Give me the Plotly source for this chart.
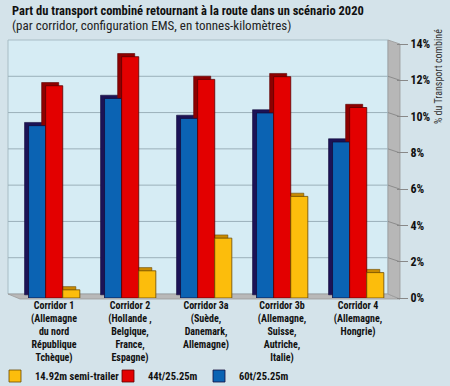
import plotly.graph_objects as go

categories = [
    "Corridor 1<br>(Allemagne<br>du nord<br>République<br>Tchèque)",
    "Corridor 2<br>(Hollande ,<br>Belgique,<br>France,<br>Espagne)",
    "Corridor 3a<br>(Suède,<br>Danemark,<br>Allemagne)",
    "Corridor 3b<br>(Allemagne,<br>Suisse,<br>Autriche,<br>Italie)",
    "Corridor 4<br>(Allemagne,<br>Hongrie)",
]
v60 = [9.5, 11.0, 9.9, 10.2, 8.6]
v44 = [11.7, 13.3, 12.05, 12.2, 10.5]
v1492 = [0.45, 1.5, 3.3, 5.6, 1.4]
tick_vals = [0, 2, 4, 6, 8, 10, 12, 14]
tick_text = ["0%", "2%", "4%", "6%", "8%", "10%", "12%", "14%"]

W, H = 450, 386
X0, X1, Y0, Y1 = 16, 396, 44, 298   # front plane in pixels
PW, PH = X1 - X0, Y1 - Y0

def fx(px):
    return px / W

def fy(py):
    return (H - py) / H

FONT = "Liberation Sans Narrow, Arial Narrow, Roboto Condensed, Liberation Sans, sans-serif"

series = [
    ("60t/25.25m", v60, "#0b63b3", "#1c1356", "#140c3c", -0.335, "legend3"),
    ("44t/25.25m", v44, "#e30000", "#8e0000", "#5a0000", -0.11, "legend2"),
    ("14.92m semi-trailer", v1492, "#fcbd0c", "#c98b00", "#6b4a00", 0.115, "legend"),
]
bw = 0.225
dx = 4.0 / (PW / 5)
dy = 3.2 / (PH / 14)

fig = go.Figure()
for name, vals, front, dark, edge, off, lg in series:
    fig.add_trace(go.Bar(
        x=categories, y=vals, base=dy, offset=off - dx, width=bw,
        marker=dict(color=dark, line=dict(color=edge, width=0.6)),
        showlegend=False, hoverinfo="skip"))
for name, vals, front, dark, edge, off, lg in series:
    fig.add_trace(go.Bar(
        x=categories, y=vals, offset=off, width=bw, name=name, legend=lg,
        marker=dict(color=front, line=dict(color=edge, width=0.8))))

shapes = []
shapes.append(dict(type="rect", xref="paper", yref="paper", layer="below",
                   x0=fx(8), x1=fx(388), y0=fy(294), y1=fy(40),
                   fillcolor="#d6ecf4", line=dict(color="#a8bcc5", width=1)))
shapes.append(dict(type="path", xref="paper", yref="paper", layer="below",
                   path="M %f %f L %f %f L %f %f L %f %f Z" % (
                       fx(8), fy(294), fx(388), fy(294),
                       fx(400), fy(299), fx(20), fy(299)),
                   fillcolor="#b9b9b9", line=dict(color="#9a9a9a", width=0.8)))
shapes.append(dict(type="path", xref="paper", yref="paper", layer="below",
                   path="M %f %f L %f %f L %f %f L %f %f Z" % (
                       fx(388), fy(40), fx(400), fy(44),
                       fx(400), fy(299), fx(388), fy(294)),
                   fillcolor="#b7b7b7", line=dict(color="#9a9a9a", width=0.8)))
for v in tick_vals[1:-1]:
    shapes.append(dict(type="line", xref="paper", yref="y", layer="below",
                       x0=fx(8), x1=fx(388), yanchor=v, ysizemode="pixel",
                       y0=4, y1=4, line=dict(color="#9bb0b9", width=1)))
    shapes.append(dict(type="line", xref="paper", yref="y", layer="below",
                       x0=fx(388), x1=fx(400), yanchor=v, ysizemode="pixel",
                       y0=4, y1=0, line=dict(color="#8c8c8c", width=1)))

annotations = [
    dict(text="<b>Part du transport combiné retournant à la route dans un scénario 2020</b>",
         xref="paper", yref="paper", x=fx(10), y=fy(11), xanchor="left", yanchor="middle",
         showarrow=False, font=dict(family=FONT, size=12.5, color="#111")),
    dict(text="(par corridor, configuration EMS, en tonnes-kilomètres)",
         xref="paper", yref="paper", x=fx(10), y=fy(25), xanchor="left", yanchor="middle",
         showarrow=False, font=dict(family=FONT, size=13, color="#222")),
    dict(text="% du Transport combiné", textangle=-90,
         xref="paper", yref="paper", x=fx(438), y=fy(77), xanchor="center", yanchor="middle",
         showarrow=False, font=dict(family=FONT, size=10, color="#333")),
]

legend_common = dict(orientation="h", bgcolor="rgba(0,0,0,0)", xanchor="left", yanchor="middle",
                     font=dict(family=FONT, size=10.5, color="#111", weight="bold"), itemwidth=30)

fig.update_layout(
    width=W, height=H,
    margin=dict(l=0, r=0, t=0, b=0, autoexpand=False),
    paper_bgcolor="#d4e3ea",
    plot_bgcolor="rgba(0,0,0,0)",
    barmode="overlay",
    showlegend=True,
    legend=dict(x=fx(-5), y=fy(376), **legend_common),
    legend2=dict(x=fx(108), y=fy(376), **legend_common),
    legend3=dict(x=fx(199), y=fy(376), **legend_common),
    xaxis=dict(domain=[fx(X0), fx(X1)], range=[-0.5, 4.5], showgrid=False, showline=False, ticks="",
               tickfont=dict(family=FONT, size=10, color="#111", weight="bold"), tickangle=0,
               zeroline=False, fixedrange=True),
    yaxis=dict(domain=[fy(Y1), fy(Y0)], range=[0, 14], side="right", tickvals=tick_vals,
               ticktext=tick_text, ticks="outside", ticklen=11, tickcolor="#888",
               showgrid=False, zeroline=False, showline=False,
               tickfont=dict(family=FONT, size=12, color="#111", weight="bold"),
               fixedrange=True),
    shapes=shapes,
    annotations=annotations,
)
fig.write_html("out.html", config={"displayModeBar": False},
               post_script="document.body.style.margin='0';")
